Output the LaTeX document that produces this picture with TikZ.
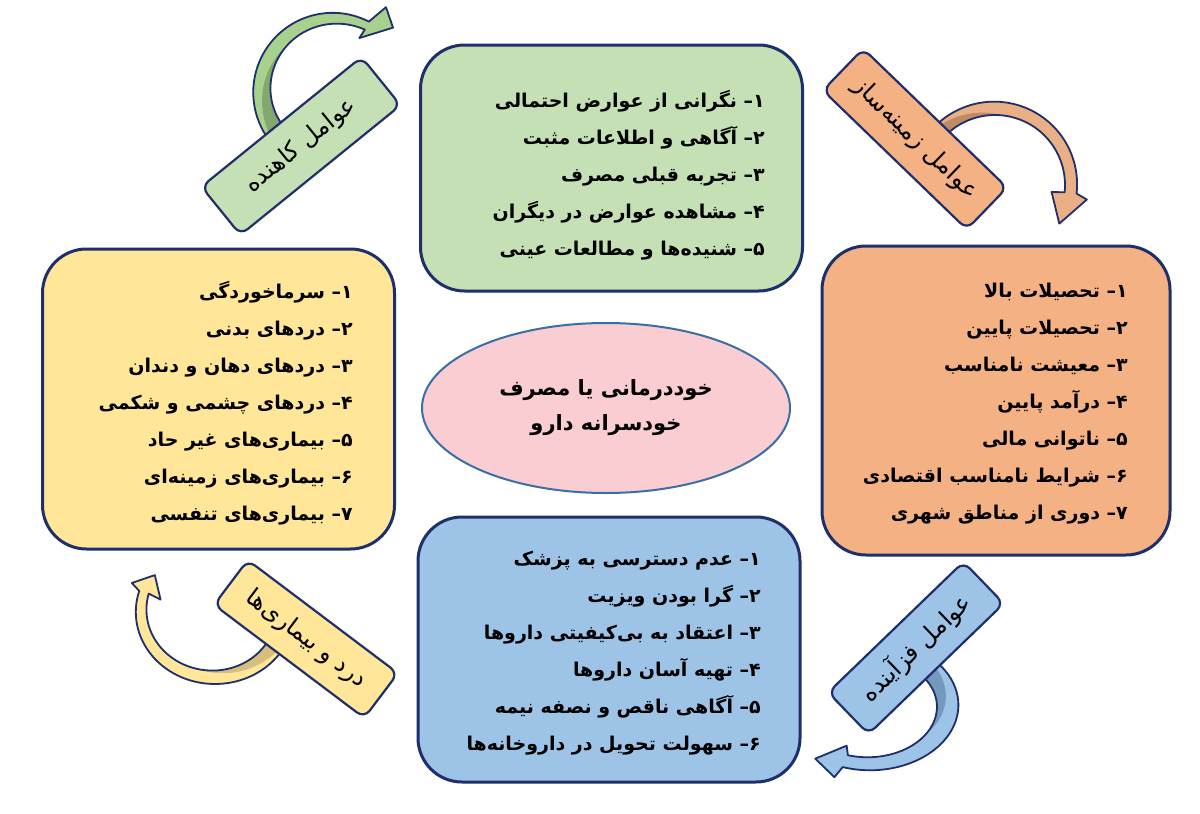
\documentclass[tikz,border=0pt]{standalone}
\usepackage{fontspec}
\newfontfamily\fa[Script=Arabic]{DejaVu Sans}
\TeXXeTstate=1
\usetikzlibrary{shapes.geometric}
\definecolor{navy}{HTML}{1F2F6B}
\definecolor{boxgreen}{HTML}{C5E0B4}
\definecolor{boxyellow}{HTML}{FFE699}
\definecolor{boxorange}{HTML}{F4B183}
\definecolor{boxblue}{HTML}{9DC3E6}
\definecolor{ellpink}{HTML}{F9CDD1}
\definecolor{ellline}{HTML}{3A6EA5}
\definecolor{argreen}{HTML}{A9D18E}
\definecolor{argreend}{HTML}{86A66F}
\definecolor{arorange}{HTML}{EBAF85}
\definecolor{aroranged}{HTML}{C08B63}
\definecolor{aryellow}{HTML}{FFE699}
\definecolor{aryellowd}{HTML}{D6BF7C}
\definecolor{arblue}{HTML}{9DC3E6}
\definecolor{arblued}{HTML}{7598BD}
\newcommand\pdash{\hbox{–}}
\newcommand\rl[1]{\beginR #1\endR}
% curved arrow geometry helpers
\def\caro{(\caoA+(\caoB-(\caoA))*(\t-(\caA))/((\caB)-(\caA)))}
\def\cari{(\caiA+(\caiB-(\caiA))*(\t-(\caA))/((\caB)-(\caA)))}
\def\cadk{(\cari+(\caro-\cari)*0.85*(\t-(\caM))/((\caA)-(\caM)))}
\newcommand\curvedarrow[2]{%
 \fill[#1]
  plot[domain=\caA:\caB, samples=50, variable=\t] ({\cacx+\casx*\caro*cos(\t)},{\cacy-\casy*\caro*sin(\t)})
  -- ({\cacx+\casx*\caho*cos(\cahoa)},{\cacy-\casy*\caho*sin(\cahoa)})
  -- ({\cacx+\casx*\catr*cos(\cata)},{\cacy-\casy*\catr*sin(\cata)})
  -- ({\cacx+\casx*\cahi*cos(\cahia)},{\cacy-\casy*\cahi*sin(\cahia)})
  -- plot[domain=\caB:\caA, samples=50, variable=\t] ({\cacx+\casx*\cari*cos(\t)},{\cacy-\casy*\cari*sin(\t)})
  -- cycle;
 \fill[#2]
  plot[domain=\caA:\caM, samples=40, variable=\t] ({\cacx+\casx*\cari*cos(\t)},{\cacy-\casy*\cari*sin(\t)})
  -- plot[domain=\caM:\caA, samples=40, variable=\t] ({\cacx+\casx*\cadk*cos(\t)},{\cacy-\casy*\cadk*sin(\t)})
  -- cycle;
 \draw[navy, line width=1.8, line join=round]
  plot[domain=\caA:\caB, samples=50, variable=\t] ({\cacx+\casx*\caro*cos(\t)},{\cacy-\casy*\caro*sin(\t)})
  -- ({\cacx+\casx*\caho*cos(\cahoa)},{\cacy-\casy*\caho*sin(\cahoa)})
  -- ({\cacx+\casx*\catr*cos(\cata)},{\cacy-\casy*\catr*sin(\cata)})
  -- ({\cacx+\casx*\cahi*cos(\cahia)},{\cacy-\casy*\cahi*sin(\cahia)})
  -- plot[domain=\caB:\caA, samples=50, variable=\t] ({\cacx+\casx*\cari*cos(\t)},{\cacy-\casy*\cari*sin(\t)})
  -- cycle;
}
\begin{document}
\begin{tikzpicture}[x=1pt,y=-1pt,
  bigbox/.style={draw=navy, line width=3, rounded corners=44, inner sep=0},
  listtext/.style={align=right, inner sep=0, font=\fa\bfseries\fontsize{19}{37}\selectfont},
  tagbox/.style={draw=navy, line width=2.2, rounded corners=9, inner sep=0, font=\fa\fontsize{24}{28}\selectfont},
]
\useasboundingbox (0,0) rectangle (1200,814);
\fill[white] (0,0) rectangle (1200,814);

% ---- curved arrows (behind the tags)
\begingroup
\def\cacx{333}\def\cacy{92}\def\casx{1}\def\casy{1}
\def\caA{218}\def\caB{63}\def\caM{135}
\def\caoA{80}\def\caoB{79}\def\caiA{60}\def\caiB{70}
\def\cahoa{58}\def\caho{100}\def\cahia{64}\def\cahi{60}\def\cata{47}\def\catr{88}
\curvedarrow{argreen}{argreend}
\endgroup
\begingroup
\def\cacx{995}\def\cacy{185}\def\casx{1}\def\casy{1}
\def\caA{135}\def\caB{-6}\def\caM{85}
\def\caoA{84}\def\caoB{82}\def\caiA{70}\def\caiB{70}
\def\cahoa{-9}\def\caho{93}\def\cahia{-7}\def\cahi{57}\def\cata{-31}\def\catr{75}
\curvedarrow{arorange}{aroranged}
\endgroup
\begingroup
\def\cacx{215}\def\cacy{612}\def\casx{1.1}\def\casy{1}
\def\caA{330}\def\caB{163}\def\caM{255}
\def\caoA{72}\def\caoB{72}\def\caiA{56}\def\caiB{63}
\def\cahoa{159}\def\caho{81}\def\cahia{166}\def\cahi{51}\def\cata{146}\def\catr{66}
\curvedarrow{aryellow}{aryellowd}
\endgroup
\begingroup
\def\cacx{870}\def\cacy{705}\def\casx{1.3}\def\casy{0.96}
\def\caA{45}\def\caB{-108}\def\caM{-35}
\def\caoA{68}\def\caoB{68}\def\caiA{50}\def\caiB{55}
\def\cahoa{-110}\def\caho{80}\def\cahia{-113}\def\cahi{46}\def\cata{-127}\def\catr{70}
\curvedarrow{arblue}{arblued}
\endgroup

% ---- main boxes
\node[bigbox, fill=boxgreen, minimum width=382, minimum height=246] (green) at (611.5,168) {};
\node[bigbox, fill=boxyellow, minimum width=352, minimum height=300] (yellow) at (218.5,399) {};
\node[bigbox, fill=boxorange, minimum width=348, minimum height=309] (orange) at (996,400.5) {};
\node[bigbox, fill=boxblue, minimum width=382, minimum height=265] (blue) at (609,649.5) {};

% ---- box texts
\node[listtext, anchor=east] (greenT) at (765,175) {%
\rl{۱\pdash{} نگرانی از عوارض احتمالی}\\
\rl{۲\pdash{} آگاهی و اطلاعات مثبت}\\
\rl{۳\pdash{} تجربه قبلی مصرف}\\
\rl{۴\pdash{} مشاهده عوارض در دیگران}\\
\rl{۵\pdash{} شنیده‌ها و مطالعات عینی}};

\node[listtext, anchor=east] (yellowT) at (353,403.5) {%
\rl{۱\pdash{} سرماخوردگی}\\
\rl{۲\pdash{} دردهای بدنی}\\
\rl{۳\pdash{} دردهای دهان و دندان}\\
\rl{۴\pdash{} دردهای چشمی و شکمی}\\
\rl{۵\pdash{} بیماری‌های غیر حاد}\\
\rl{۶\pdash{} بیماری‌های زمینه‌ای}\\
\rl{۷\pdash{} بیماری‌های تنفسی}};

\node[listtext, anchor=east] (orangeT) at (1128,403.5) {%
\rl{۱\pdash{} تحصیلات بالا}\\
\rl{۲\pdash{} تحصیلات پایین}\\
\rl{۳\pdash{} معیشت نامناسب}\\
\rl{۴\pdash{} درآمد پایین}\\
\rl{۵\pdash{} ناتوانی مالی}\\
\rl{۶\pdash{} شرایط نامناسب اقتصادی}\\
\rl{۷\pdash{} دوری از مناطق شهری}};

\node[listtext, anchor=east] (blueT) at (761,653.5) {%
\rl{۱\pdash{} عدم دسترسی به پزشک}\\
\rl{۲\pdash{} گرا بودن ویزیت}\\
\rl{۳\pdash{} اعتقاد به بی‌کیفیتی داروها}\\
\rl{۴\pdash{} تهیه آسان داروها}\\
\rl{۵\pdash{} آگاهی ناقص و نصفه نیمه}\\
\rl{۶\pdash{} سهولت تحویل در داروخانه‌ها}};

% ---- centre ellipse
\node[ellipse, draw=ellline, line width=2, fill=ellpink, minimum width=368, minimum height=170,
      align=center, font=\fa\bfseries\fontsize{21}{35}\selectfont] (centre) at (606,408)
  {\rl{خوددرمانی یا مصرف}\\\rl{خودسرانه دارو}};

% ---- tags
\node[tagbox, fill=boxgreen, rotate=39, minimum width=206, minimum height=62] (tagG) at (301,146) {\rl{عوامل کاهنده}};
\node[tagbox, fill=boxorange, rotate=-44, minimum width=200, minimum height=58] (tagO) at (915,139) {\rl{عوامل زمینه‌ساز}};
\node[tagbox, fill=boxyellow, rotate=-37, minimum width=188, minimum height=56] (tagY) at (306,639) {\rl{درد و بیماری‌ها}};
\node[tagbox, fill=boxblue, rotate=44, minimum width=188, minimum height=58] (tagB) at (916,648) {\rl{عوامل فزآینده}};
\end{tikzpicture}
\end{document}
